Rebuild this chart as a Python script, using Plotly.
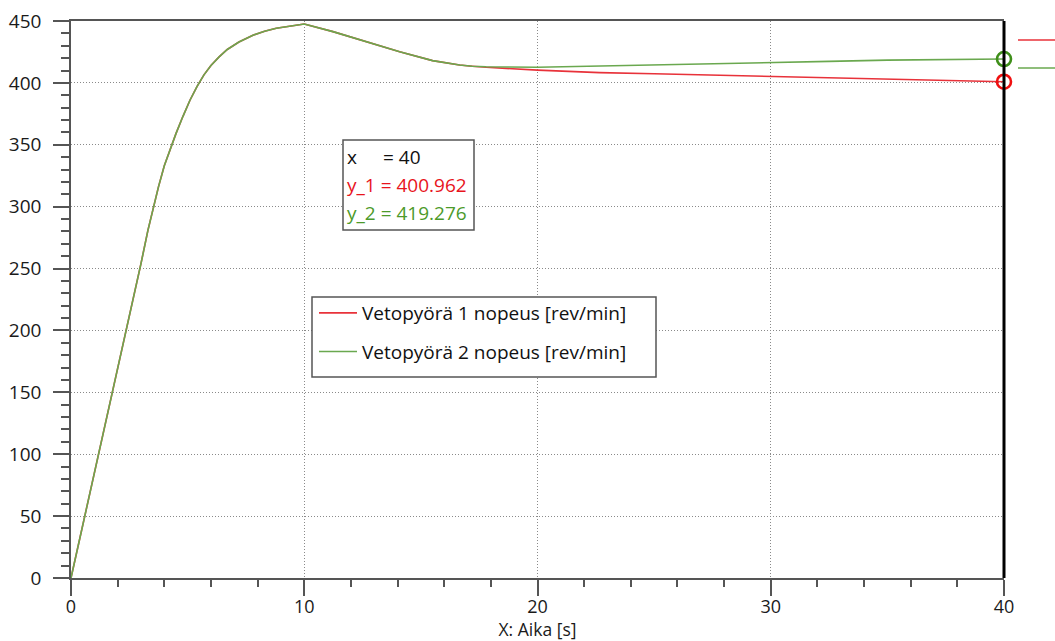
import plotly.graph_objects as go

# Shared run-up of both drive wheels (identical until ~17 s)
t_shared = [0, 1.0, 2.0, 3.0, 3.3, 3.5, 3.75, 4.0, 4.27, 4.5, 4.8,
            5.1, 5.4, 5.7, 6.0, 6.35, 6.7, 7.2, 7.8, 8.3, 8.8, 9.4, 10.0,
            11.23, 12.66, 14.09, 15.5, 16.66, 17.2]
v_shared = [0, 84, 169, 254, 281, 297, 316, 333, 348, 359, 373,
            386, 397, 406.5, 414, 421, 427, 433, 438.5, 441.8, 444.2, 446.2, 447.6,
            441.4, 433.3, 425.2, 418.0, 414.4, 413.5]

# Diverging tails after ~17 s
t_tail = [17.8, 20, 22.66, 25, 27.5, 30, 32.5, 35, 37.5, 40]
v1_tail = [412.6, 410.3, 408.3, 407.4, 406.3, 405.4, 404.1, 402.7, 401.7, 400.962]
v2_tail = [413.0, 412.6, 413.5, 414.3, 415.3, 416.3, 417.4, 418.4, 419.0, 419.276]

series_names = ["Vetopyörä 1 nopeus [rev/min]", "Vetopyörä 2 nopeus [rev/min]"]
series_colors = ["#e8323a", "#6aa84f"]
marker_colors = ["#f01010", "#3f8f1a"]
readout_colors = ["#e8141c", "#4c9a2a"]

x_ticks = [0, 10, 20, 30, 40]
y_ticks = [0, 50, 100, 150, 200, 250, 300, 350, 400, 450]
x_title = "X: Aika [s]"
x_range = [0, 40]
y_range = [0, 450]

t_all = t_shared + t_tail
speeds = [v_shared + v1_tail, v_shared + v2_tail]
cursor_x = t_all[-1]

FONT = "Open Sans"
AX = "#555555"

# plot-area geometry (pixels) used to place boxes in paper coordinates
L, R, T, B = 71, 1004, 21, 578


def px(x):
    return (x - L) / (R - L)


def py(y):
    return (B - y) / (B - T)


fig = go.Figure()

for i in range(2):
    fig.add_trace(go.Scatter(
        x=t_all, y=speeds[i], mode="lines", name=series_names[i],
        line=dict(color=series_colors[i], width=1.6),
        legendgroup=f"g{i}",
    ))

# cursor read-out markers at the last sample
for i in range(2):
    fig.add_trace(go.Scatter(
        x=[cursor_x], y=[speeds[i][-1]], mode="markers", showlegend=False,
        marker=dict(symbol="circle-open", size=14, color=marker_colors[i],
                    line=dict(color=marker_colors[i], width=2.6)),
        cliponaxis=False,
    ))

# cursor position as a fraction of the x axis (paper shapes are not clipped)
cursor_frac = (cursor_x - x_range[0]) / (x_range[1] - x_range[0])

shapes = [
    # legend frame
    dict(type="rect", xref="paper", yref="paper", x0=px(312), x1=px(656),
         y0=py(377), y1=py(297), fillcolor="white",
         line=dict(color=AX, width=1.5), layer="above"),
    # cursor read-out frame
    dict(type="rect", xref="paper", yref="paper", x0=px(343), x1=px(474),
         y0=py(230), y1=py(140), fillcolor="white",
         line=dict(color=AX, width=1.5), layer="above"),
    # vertical cursor line
    dict(type="line", xref="paper", yref="paper", x0=cursor_frac, x1=cursor_frac,
         y0=0, y1=1, line=dict(color="black", width=3), layer="above"),
    # neighbouring legend swatches at the right edge
    dict(type="line", xref="paper", yref="paper", x0=px(1018), x1=px(1060),
         y0=py(40), y1=py(40), line=dict(color=series_colors[0], width=1.5)),
    dict(type="line", xref="paper", yref="paper", x0=px(1018), x1=px(1060),
         y0=py(68), y1=py(68), line=dict(color=series_colors[1], width=1.5)),
]

readout_font = dict(family=FONT, size=19, color="#111111")
annotations = [
    dict(xref="paper", yref="paper", x=px(345), y=py(157), text="x",
         xanchor="left", yanchor="middle", showarrow=False, font=readout_font),
    dict(xref="paper", yref="paper", x=px(381), y=py(157), text=f"= {cursor_x:g}",
         xanchor="left", yanchor="middle", showarrow=False, font=readout_font),
    dict(xref="paper", yref="paper", x=px(345), y=py(185),
         text=f"y_1 = {speeds[0][-1]:.3f}", xanchor="left", yanchor="middle",
         showarrow=False, font=dict(family=FONT, size=19, color=readout_colors[0])),
    dict(xref="paper", yref="paper", x=px(345), y=py(213),
         text=f"y_2 = {speeds[1][-1]:.3f}", xanchor="left", yanchor="middle",
         showarrow=False, font=dict(family=FONT, size=19, color=readout_colors[1])),
]

axis_common = dict(
    showline=True, linecolor=AX, linewidth=1.5,
    ticks="outside", ticklen=16, tickwidth=1.5, tickcolor=AX,
    showgrid=True, gridcolor="#8a8a8a", gridwidth=1, griddash="1px,2px",
    zeroline=False, automargin=False,
)

fig.update_layout(
    width=1055, height=641,
    margin=dict(l=L, r=1055 - R, t=T, b=641 - B),
    paper_bgcolor="white", plot_bgcolor="white",
    font=dict(family=FONT, size=19, color="#1a1a1a"),
    showlegend=True,
    legend=dict(x=px(314), y=py(294), xanchor="left", yanchor="top",
                bgcolor="rgba(0,0,0,0)", borderwidth=0,
                font=dict(family=FONT, size=19, color="#111111"),
                tracegroupgap=11, traceorder="grouped", itemwidth=38),
    xaxis=dict(range=x_range, tickvals=x_ticks, mirror=True,
               minor=dict(dtick=2, ticks="outside", ticklen=7, tickwidth=1.5,
                          tickcolor=AX, showgrid=False),
               tickfont=dict(family=FONT, size=18, color="#1a1a1a"),
               ticklabelstandoff=-4,
               title=dict(text=x_title, standoff=8,
                          font=dict(family=FONT, size=17.5, color="#1a1a1a")),
               **axis_common),
    yaxis=dict(range=y_range, tickvals=y_ticks,
               minor=dict(dtick=10, ticks="outside", ticklen=8, tickwidth=1.5,
                          tickcolor=AX, showgrid=False),
               tickfont=dict(family=FONT, size=19, color="#1a1a1a"),
               ticklabelstandoff=8,
               **axis_common),
    shapes=shapes,
    annotations=annotations,
)

fig.write_html("out.html")
